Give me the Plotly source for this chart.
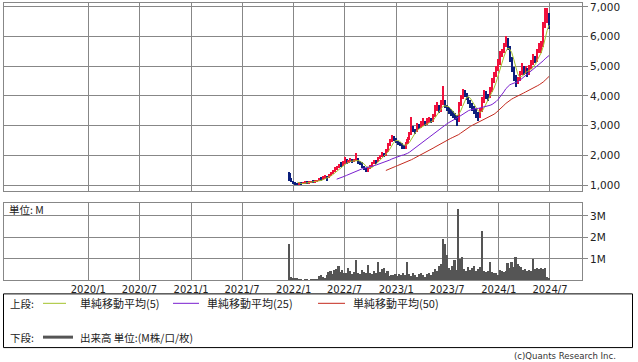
import pandas as pd
import plotly.graph_objects as go

# ---------------- data (weekly) ----------------
first_week = "2021-12-17"
n_weeks = 133

opens = [1400,1200,1120,1080,1050,1020,1060,1040,1080,1100,
         1070,1090,1120,1100,1130,1150,1200,1180,1230,1280,
         1260,1330,1400,1480,1550,1600,1680,1650,1750,1820,
         1760,1800,1860,1780,1840,1900,1750,1700,1620,1560,
         1480,1560,1650,1720,1800,1780,1900,1980,2050,2000,
         2150,2350,2500,2620,2550,2450,2400,2350,2300,2250,
         2400,2550,2700,2900,2850,2800,3000,2950,3050,3100,
         3050,3150,3200,3150,3300,3550,3650,3500,3750,3800,
         3650,3550,3450,3400,3350,3300,3150,3700,3950,4150,
         4050,3900,3800,3700,3600,3500,3350,3300,3500,3800,
         4100,4000,3950,4200,4500,4700,4900,5100,5400,5500,
         5700,5800,5650,5250,4900,4600,4450,4550,4750,4950,
         4800,4900,4750,4950,5100,5300,5200,5500,5600,5700,
         6350,6650,6750]
highs = [1450,1240,1150,1110,1080,1090,1100,1110,1130,1120,
         1120,1150,1160,1170,1180,1240,1260,1290,1330,1310,
         1380,1440,1520,1600,1640,1720,1760,1800,1950,1870,
         1850,1900,1880,1870,2090,1920,1800,1760,1650,1590,
         1600,1690,1760,1850,1840,1950,2020,2100,2080,2200,
         2400,2560,2670,2650,2580,2500,2450,2400,2350,2450,
         2620,2780,3280,2980,2900,3100,3060,3150,3250,3150,
         3250,3300,3250,3400,3700,3800,3700,3850,4330,3850,
         3700,3620,3550,3480,3420,3350,3800,4050,4230,4200,
         4100,3950,3880,3760,3650,3560,3450,3600,3950,4200,
         4170,4080,4300,4600,4800,5000,5250,5500,5600,5800,
         6030,5950,5700,5300,4980,4700,4650,4850,5100,5000,
         5000,4950,5050,5200,5400,5350,5600,5800,5850,6500,
         6970,6950,6800]
lows = [1150,1090,1050,1010,990,1000,1010,1030,1050,1040,
        1050,1070,1080,1090,1100,1130,1150,1170,1210,1150,
        1240,1300,1380,1450,1500,1570,1600,1630,1720,1700,
        1730,1770,1740,1760,1810,1720,1660,1590,1500,1440,
        1450,1530,1620,1700,1720,1760,1870,1950,1930,1980,
        2120,2320,2460,2500,2400,2350,2300,2220,2200,2230,
        2380,2520,2680,2800,2720,2780,2880,2920,3000,2980,
        3020,3100,3080,3120,3280,3500,3420,3470,3700,3580,
        3480,3380,3330,3250,3200,3000,3120,3650,3900,3980,
        3850,3720,3600,3500,3400,3250,3150,3270,3450,3750,
        3900,3820,3920,4150,4450,4650,4850,5050,5300,5450,
        5650,5550,5150,4800,4500,4320,4400,4500,4700,4700,
        4750,4650,4720,4900,5050,5100,5150,5450,5450,5650,
        6300,6450,6250]
closes = [1200,1120,1080,1050,1020,1060,1040,1080,1100,1070,
          1090,1120,1100,1130,1150,1200,1180,1230,1280,1260,
          1330,1400,1480,1550,1600,1680,1650,1750,1820,1760,
          1800,1860,1780,1840,1900,1750,1700,1620,1560,1480,
          1560,1650,1720,1800,1780,1900,1980,2050,2000,2150,
          2350,2500,2620,2550,2450,2400,2350,2300,2250,2400,
          2550,2700,2900,2850,2800,3000,2950,3050,3100,3050,
          3150,3200,3150,3300,3550,3650,3500,3750,3800,3650,
          3550,3450,3400,3350,3300,3150,3700,3950,4150,4050,
          3900,3800,3700,3600,3500,3350,3300,3500,3800,4100,
          4000,3950,4200,4500,4700,4900,5100,5400,5500,5700,
          5800,5650,5250,4900,4600,4450,4550,4750,4950,4800,
          4900,4750,4950,5100,5300,5200,5500,5600,5700,6350,
          6650,6750,6500]
volume_m = [1.70,0.18,0.15,0.12,0.14,0.06,0.05,0.04,0.05,0.06,
            0.04,0.05,0.07,0.06,0.10,0.22,0.28,0.18,0.12,0.25,
            0.40,0.45,0.32,0.50,0.55,0.68,0.42,0.50,0.38,0.35,
            0.60,0.45,0.30,0.42,0.97,0.35,0.30,0.50,0.42,0.35,
            0.74,0.38,0.30,0.45,0.35,0.90,0.40,0.55,0.60,0.35,
            0.45,0.22,0.28,0.25,0.30,0.22,0.30,0.25,0.35,0.28,
            0.90,0.30,0.22,0.35,0.28,0.18,0.30,0.38,0.25,0.20,
            0.30,0.35,0.28,0.40,0.55,0.45,0.70,0.80,1.94,1.70,
            1.20,0.60,0.50,0.70,0.95,0.50,3.35,1.00,1.10,0.55,
            0.45,0.65,0.50,0.60,0.70,0.45,0.55,0.65,2.30,0.45,
            0.40,0.45,0.90,0.40,0.35,0.38,0.25,0.50,0.45,0.42,
            0.45,0.85,0.60,0.88,0.65,1.13,0.80,0.70,0.65,0.50,
            0.55,0.45,0.50,0.48,1.00,0.55,0.60,0.55,0.60,0.55,
            0.58,0.20,0.12]

ma_windows = [5, 25, 50]
ma_labels = ["単純移動平均(5)", "単純移動平均(25)", "単純移動平均(50)"]
ma_colors = ["#a4c22c", "#7a1fd0", "#c42a1e"]

x_tick_dates = ["2020-01-01", "2020-07-01", "2021-01-01", "2021-07-01", "2022-01-01",
                "2022-07-01", "2023-01-01", "2023-07-01", "2024-01-01", "2024-07-01"]
x_tick_labels = ["2020/1", "2020/7", "2021/1", "2021/7", "2022/1",
                 "2022/7", "2023/1", "2023/7", "2024/1", "2024/7"]
price_ticks = [1000, 2000, 3000, 4000, 5000, 6000, 7000]
vol_ticks = [1, 2, 3]
vol_tick_labels = ["1M", "2M", "3M"]

dates = pd.date_range(first_week, periods=n_weeks, freq="7D")
close_s = pd.Series(closes, index=dates)

W, H = 638, 362
def px(x): return x / W
def py(y): return 1 - y / H

GRID = "#878787"
UP = "#f0103c"
DOWN = "#0c1f7c"
DAY = 86400000

up = [c >= o for o, c in zip(opens, closes)]
cols = [UP if u else DOWN for u in up]
body_base = [min(o, c) for o, c in zip(opens, closes)]
body_len = [max(abs(c - o), 15) for o, c in zip(opens, closes)]
wick_len = [h - l for h, l in zip(highs, lows)]

fig = go.Figure()
# wicks (low -> high)
fig.add_trace(go.Bar(x=dates, y=wick_len, base=lows, width=3.6 * DAY,
                     marker=dict(color=cols, line=dict(width=0)),
                     xaxis="x", yaxis="y", showlegend=False, hoverinfo="skip"))
# bodies (open <-> close)
fig.add_trace(go.Bar(x=dates, y=body_len, base=body_base, width=7.2 * DAY,
                     marker=dict(color=cols, line=dict(width=0)),
                     xaxis="x", yaxis="y", showlegend=False, hoverinfo="skip"))
for w, c in zip(ma_windows, ma_colors):
    ma = close_s.rolling(w).mean()
    fig.add_trace(go.Scatter(x=dates, y=ma.values, mode="lines",
                             line=dict(color=c, width=1),
                             xaxis="x", yaxis="y", showlegend=False, hoverinfo="skip"))
fig.add_trace(go.Bar(x=dates, y=volume_m, marker=dict(color="#555555", line=dict(width=0)),
                     width=6 * DAY, xaxis="x2", yaxis="y2", showlegend=False,
                     hoverinfo="skip"))

xr = ["2019-03-07", "2024-10-23"]
common_x = dict(type="date", range=xr, tickvals=x_tick_dates, ticktext=x_tick_labels,
                showgrid=True, gridcolor=GRID, gridwidth=1, showline=True, mirror=True,
                linecolor=GRID, linewidth=1, zeroline=False, ticks="",
                domain=[px(4), px(582)])
TICKFONT = dict(family="DejaVu Sans", size=10.5, color="#222222")
fig.update_layout(
    width=W, height=H, margin=dict(l=0, r=0, t=0, b=0),
    paper_bgcolor="white", plot_bgcolor="white", barmode="overlay", bargap=0,
    font=dict(family="DejaVu Sans", size=10, color="#222222"),
    xaxis=dict(**common_x, anchor="y", showticklabels=False,
               rangeslider=dict(visible=False)),
    xaxis2=dict(**common_x, anchor="y2", showticklabels=True,
                tickfont=dict(family="DejaVu Sans", size=10, color="#222222"),
                ticklabeloverflow="allow", ticklabelstandoff=0),
    yaxis=dict(domain=[py(190), py(1)], range=[800, 7134], side="right",
               tickvals=price_ticks, tickformat=",d", ticks="outside", ticklen=5,
               tickcolor=GRID, showgrid=True, gridcolor=GRID, showline=True,
               mirror=True, linecolor=GRID, zeroline=False, tickfont=TICKFONT,
               ticklabeloverflow="allow"),
    yaxis2=dict(domain=[py(280), py(201.7)], range=[0, 3.62], side="right",
                tickvals=vol_ticks, ticktext=vol_tick_labels, ticks="outside",
                ticklen=5, tickcolor=GRID, showgrid=True, gridcolor=GRID,
                showline=True, mirror=True, linecolor=GRID, zeroline=False,
                tickfont=TICKFONT, ticklabeloverflow="allow"),
)

JP = "Noto Sans CJK JP"
LEG_Y1, LEG_Y2 = 303, 337
shapes = [dict(type="rect", xref="paper", yref="paper", x0=px(3.5), x1=px(632.5),
               y0=py(347.5), y1=py(293.5), line=dict(color="#000000", width=1))]
ann = []
ann.append(dict(text="単位: M", x=px(7), y=py(208.5), xanchor="left", yanchor="middle",
                font=dict(family=JP, size=10.5, color="#222222")))
ann.append(dict(text="上段:", x=px(8), y=py(LEG_Y1), xanchor="left", yanchor="middle",
                font=dict(family=JP, size=10.5, color="#222222")))
ann.append(dict(text="下段:", x=px(8), y=py(LEG_Y2), xanchor="left", yanchor="middle",
                font=dict(family=JP, size=10.5, color="#222222")))
seg = [(43, 66, 78), (173, 199, 205), (318, 345, 351)]
for (a, b, t), lab, c in zip(seg, ma_labels, ma_colors):
    shapes.append(dict(type="line", xref="paper", yref="paper", x0=px(a), x1=px(b),
                       y0=py(LEG_Y1), y1=py(LEG_Y1), line=dict(color=c, width=1)))
    ann.append(dict(text=lab, x=px(t), y=py(LEG_Y1), xanchor="left", yanchor="middle",
                    font=dict(family=JP, size=11, color="#222222")))
shapes.append(dict(type="line", xref="paper", yref="paper", x0=px(43), x1=px(73),
                   y0=py(LEG_Y2), y1=py(LEG_Y2), line=dict(color="#555555", width=3)))
ann.append(dict(text="出来高 単位:(M株/口/枚)", x=px(78), y=py(LEG_Y2), xanchor="left",
                yanchor="middle", font=dict(family=JP, size=10.5, color="#222222")))
ann.append(dict(text="(c)Quants Research Inc.", x=px(618), y=py(355.5), xanchor="right",
                yanchor="middle",
                font=dict(family="Liberation Sans Narrow, DejaVu Sans Condensed, Liberation Sans",
                          size=9.5, color="#333333")))
for a in ann:
    a.update(xref="paper", yref="paper", showarrow=False)
fig.update_layout(shapes=shapes, annotations=ann)

fig.write_html("out.html")
